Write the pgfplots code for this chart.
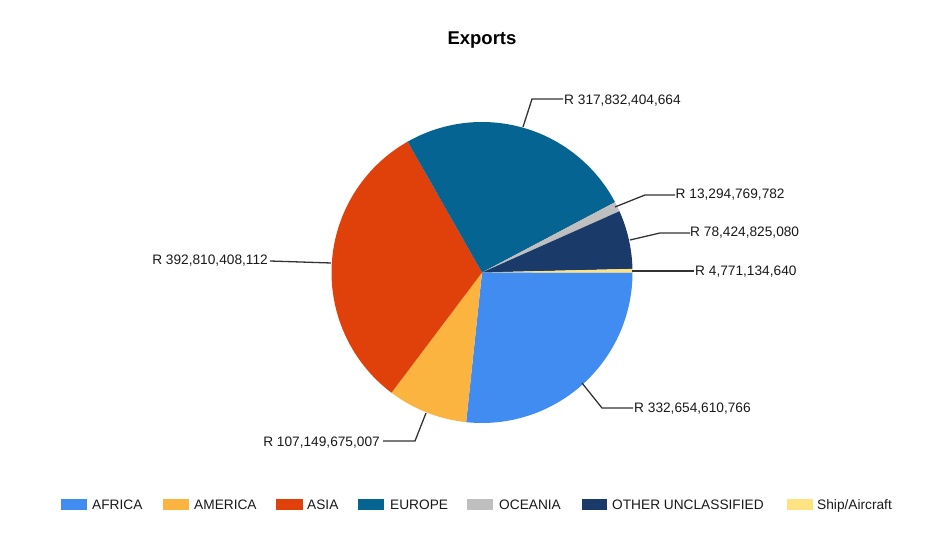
\documentclass[border=0pt]{standalone}
\usepackage{pgfplots}
\pgfplotsset{compat=1.18}
\usepackage{fontspec}
\setmainfont{Liberation Sans}
\definecolor{africa}{HTML}{418CF0}
\definecolor{america}{HTML}{FCB441}
\definecolor{asia}{HTML}{E0400A}
\definecolor{europe}{HTML}{056492}
\definecolor{oceania}{HTML}{BFBFBF}
\definecolor{other}{HTML}{1A3B69}
\definecolor{ship}{HTML}{FFE382}
\definecolor{leader}{HTML}{333333}
\begin{document}
\begin{tikzpicture}
% export values in billions of Rand
\def\vA{332.654610766}% AFRICA
\def\vB{107.149675007}% AMERICA
\def\vC{392.810408112}% ASIA
\def\vD{317.832404664}% EUROPE
\def\vE{13.294769782}% OCEANIA
\def\vF{78.424825080}% OTHER UNCLASSIFIED
\def\vG{4.771134640}% Ship/Aircraft
\pgfmathsetmacro\total{\vA+\vB+\vC+\vD+\vE+\vF+\vG}
\pgfmathsetmacro\aA{0}
\pgfmathsetmacro\aB{\aA-\vA/\total*360}
\pgfmathsetmacro\aC{\aB-\vB/\total*360}
\pgfmathsetmacro\aD{\aC-\vC/\total*360}
\pgfmathsetmacro\aE{\aD-\vD/\total*360}
\pgfmathsetmacro\aF{\aE-\vE/\total*360}
\pgfmathsetmacro\aG{\aF-\vF/\total*360}
\pgfmathsetmacro\aH{\aG-\vG/\total*360}
\def\R{150.5pt}
\begin{axis}[
width=941pt,
height=532pt,
scale only axis,
xmin=0,
xmax=941,
ymin=0,
ymax=532,
hide axis,
clip=false
]
\path (axis cs:0,0) rectangle (axis cs:941,532);
\coordinate (c) at (axis cs:482,259.5);
\fill[africa]  (c) -- ++(\aA:\R) arc[start angle=\aA, end angle=\aB, radius=\R] -- cycle;
\fill[america] (c) -- ++(\aB:\R) arc[start angle=\aB, end angle=\aC, radius=\R] -- cycle;
\fill[asia]    (c) -- ++(\aC:\R) arc[start angle=\aC, end angle=\aD, radius=\R] -- cycle;
\fill[europe]  (c) -- ++(\aD:\R) arc[start angle=\aD, end angle=\aE, radius=\R] -- cycle;
\fill[oceania] (c) -- ++(\aE:\R) arc[start angle=\aE, end angle=\aF, radius=\R] -- cycle;
\fill[other]   (c) -- ++(\aF:\R) arc[start angle=\aF, end angle=\aG, radius=\R] -- cycle;
\fill[ship]    (c) -- ++(\aG:\R) arc[start angle=\aG, end angle=\aH, radius=\R] -- cycle;

% title
\node[font=\fontsize{18.5}{22}\selectfont\bfseries] at (axis cs:482,492) {Exports};

% leader lines and labels
\begin{scope}[leader, line width=1.3pt]
\draw (axis cs:523,405) -- (axis cs:532,433) -- (axis cs:563,433);
\draw (axis cs:615,325) -- (axis cs:645,337) -- (axis cs:675,337);
\draw (axis cs:630,292) -- (axis cs:660,299) -- (axis cs:690,299);
\draw (axis cs:632,261) -- (axis cs:694,261);
\draw (axis cs:582,149) -- (axis cs:602,124) -- (axis cs:633,124);
\draw (axis cs:426,119) -- (axis cs:415,91) -- (axis cs:383,91);
\draw (axis cs:331,269) -- (axis cs:270,271);
\end{scope}
\begin{scope}[every node/.style={inner sep=0pt, text=black!90, font=\fontsize{13.7}{16}\selectfont}]
\node[anchor=base west] at (axis cs:564,427.5) {R 317,832,404,664};
\node[anchor=base west] at (axis cs:675.5,333) {R 13,294,769,782};
\node[anchor=base west] at (axis cs:690,295) {R 78,424,825,080};
\node[anchor=base west] at (axis cs:695,256.5) {R 4,771,134,640};
\node[anchor=base west] at (axis cs:634,119) {R 332,654,610,766};
\node[anchor=base east] at (axis cs:380,85) {R 107,149,675,007};
\node[anchor=base east] at (axis cs:268,267) {R 392,810,408,112};
\end{scope}

% legend
\begin{scope}[every node/.style={inner sep=0pt, anchor=base west, text=black!90, font=\fontsize{13.7}{16}\selectfont}]
\fill[africa]  (axis cs:61,21.5) rectangle (axis cs:87,32.5);
\node at (axis cs:92,22) {AFRICA};
\fill[america] (axis cs:163,21.5) rectangle (axis cs:189,32.5);
\node at (axis cs:194,22) {AMERICA};
\fill[asia]    (axis cs:276,21.5) rectangle (axis cs:303,32.5);
\node at (axis cs:307,22) {ASIA};
\fill[europe]  (axis cs:358,21.5) rectangle (axis cs:384,32.5);
\node at (axis cs:390,22) {EUROPE};
\fill[oceania] (axis cs:467,21.5) rectangle (axis cs:493,32.5);
\node at (axis cs:499,22) {OCEANIA};
\fill[other]   (axis cs:582,21.5) rectangle (axis cs:607,32.5);
\node at (axis cs:612,22) {OTHER UNCLASSIFIED};
\fill[ship]    (axis cs:787,21.5) rectangle (axis cs:813,32.5);
\node at (axis cs:817,22) {Ship/Aircraft};
\end{scope}
\end{axis}
\end{tikzpicture}
\end{document}
